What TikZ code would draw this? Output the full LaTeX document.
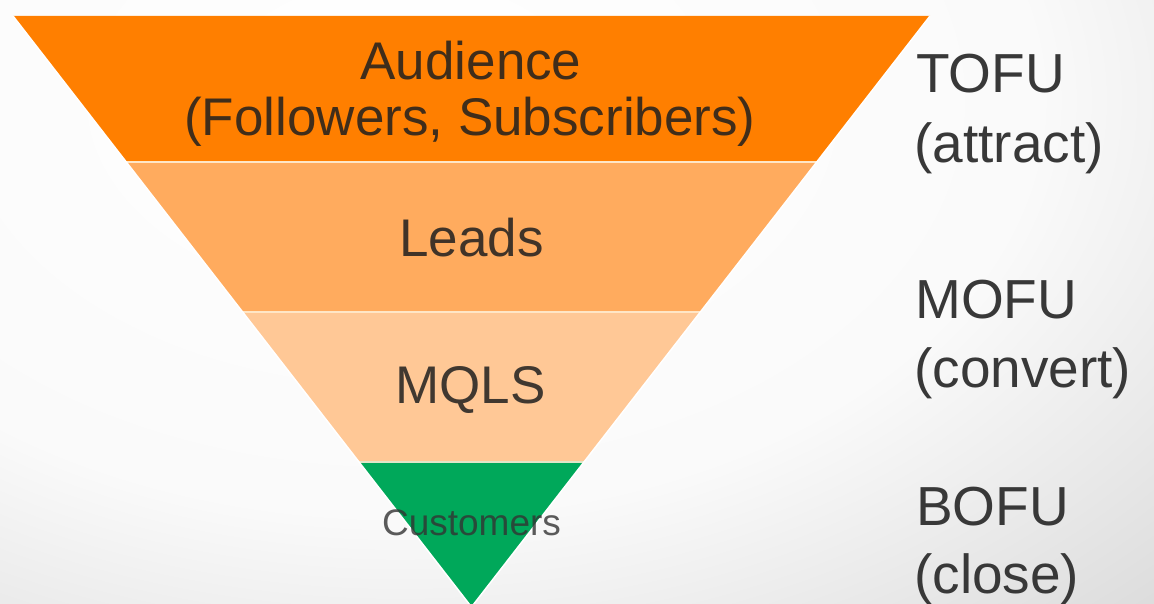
\documentclass[tikz,border=0pt]{standalone}
\usepackage{fontspec}
\setmainfont{Liberation Sans}
\usetikzlibrary{calc}

% soft grey vignette behind the funnel
\pgfdeclareradialshading{backdrop}{\pgfpoint{0bp}{0bp}}{%
  color(0bp)=(white); color(20bp)=(black!2);
  color(50bp)=(black!27)}

\definecolor{tofuorange}{HTML}{FF7F00}
\definecolor{leadorange}{HTML}{FFAB5E}
\definecolor{mqlpeach}{HTML}{FFC896}
\definecolor{custgreen}{HTML}{00A85A}
\definecolor{seamcream}{HTML}{FFE6C6}

\begin{document}
\begin{tikzpicture}[x=1pt, y=-1pt,
  band/.style={draw=none},
  seam/.style={draw=seamcream, line width=2pt},
  rim/.style={draw=white, line width=1.5pt, line join=miter},
  stagetext/.style={inner sep=0pt, anchor=base, text=black!88, text opacity=0.85,
    font=\fontsize{53}{57}\selectfont},
  smalltext/.style={inner sep=0pt, anchor=base, text=black!80, text opacity=0.8,
    font=\fontsize{37}{42}\selectfont},
  phasetext/.style={inner sep=0pt, anchor=base west, text=black!78,
    font=\fontsize{55}{66}\selectfont}]

\useasboundingbox (0,0) rectangle (1154,604);
\clip (0,0) rectangle (1154,604);

% background
\shade[shading=backdrop] (-400,-420) rectangle (1200,620);

% funnel corners and band edges
\coordinate (tl) at (13,16);
\coordinate (tr) at (930,16);
\coordinate (apex) at (471.5,607);
\coordinate (l1) at (126.3,162);  \coordinate (r1) at (816.7,162);
\coordinate (l2) at (242.6,312);  \coordinate (r2) at (700.4,312);
\coordinate (l3) at (359.0,462);  \coordinate (r3) at (584.0,462);

% funnel bands
\fill[band, tofuorange] (tl) -- (tr) -- (r1) -- (l1) -- cycle;
\fill[band, leadorange] (l1) -- (r1) -- (r2) -- (l2) -- cycle;
\fill[band, mqlpeach]   (l2) -- (r2) -- (r3) -- (l3) -- cycle;
\fill[band, custgreen]  (l3) -- (r3) -- (apex) -- cycle;

% light seams between the bands and rim along the sides
\draw[seam] (l1) -- (r1);
\draw[seam] (l2) -- (r2);
\draw[seam, draw=white!70!custgreen!40!seamcream] (l3) -- (r3);
\draw[rim] (tr) -- (apex) -- (tl);

% stage labels inside the funnel
\node[stagetext] (audience) at (471,80) {Audience};
\node[stagetext] (followers) at (470,136) {(Followers, Subscribers)};
\node[stagetext] (leads) at (471.5,256) {Leads};
\node[stagetext] (mqls) at (470.5,403) {MQLS};
\node[smalltext] (customers) at (471.5,535) {Customers};

% funnel phase labels on the right
\node[phasetext] (tofu) at (916,93) {TOFU};
\node[phasetext] (attract) at (914,163) {(attract)};
\node[phasetext] (mofu) at (915,318) {MOFU};
\node[phasetext] (convert) at (914,387) {(convert)};
\node[phasetext] (bofu) at (916,525) {BOFU};
\node[phasetext] (close) at (914,593) {(close)};

\end{tikzpicture}
\end{document}
